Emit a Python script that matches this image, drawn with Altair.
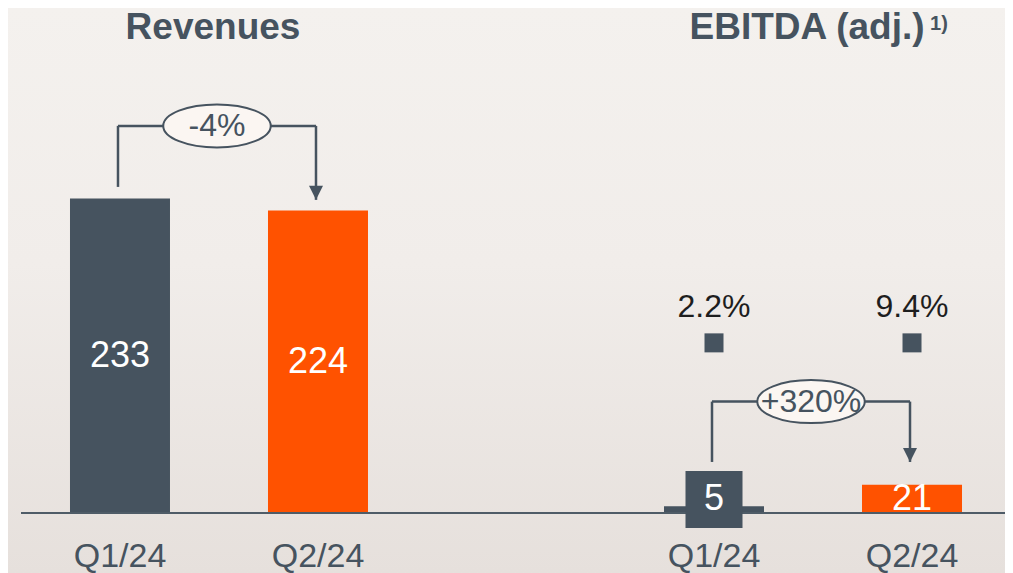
import altair as alt
import pandas as pd

# ---------------- data ----------------
keys = ["Revenues|Q1/24", "Revenues|Q2/24", "gap|", "EBITDA|Q1/24", "EBITDA|Q2/24"]
values = [233, 224, None, 5, 21]
series = ["Q1", "Q2", "Q1", "Q1", "Q2"]
value_labels = ["233", "224", "", "5", "21"]
label_y = [116.5, 112, None, 10, 10]
label_box = [False, False, False, True, False]

group_titles = ["Revenues", "EBITDA (adj.)"]
title_keys = ["Revenues|Q1/24", "EBITDA|Q1/24"]
title_y = [359.5, 359.5]
footnote = "1)"

margin_keys = ["EBITDA|Q1/24", "EBITDA|Q2/24"]
margin_labels = ["2.2%", "9.4%"]
margin_marker_y = [126, 126]
margin_text_y = [152.6, 152.6]

arrow_from = ["Revenues|Q1/24", "EBITDA|Q1/24"]
arrow_to = ["Revenues|Q2/24", "EBITDA|Q2/24"]
arrow_start_y = [241.5, 37.8]
arrow_level_y = [286.7, 82.5]
arrow_tip_y = [231.9, 37.8]
arrow_labels = ["-4%", "+320%"]

baseline_y = [0]

# ---------------- styles ----------------
SLATE = "#46535f"
ORANGE = "#ff5200"
FONT = "Liberation Sans, Arial, sans-serif"
W, H = 984, 505

bars = pd.DataFrame({"key": keys, "value": values, "series": series,
                     "label": value_labels, "label_y": label_y, "box": label_box})
titles_df = pd.DataFrame({"key": title_keys, "y": title_y, "text": group_titles})
margins_df = pd.DataFrame({"key": margin_keys, "label": margin_labels,
                           "my": margin_marker_y, "ty": margin_text_y})
arrows_df = pd.DataFrame({"from_key": arrow_from, "to_key": arrow_to,
                          "y0": arrow_start_y, "y1": arrow_level_y,
                          "y2": arrow_tip_y, "label": arrow_labels})
base_df = pd.DataFrame({"y": baseline_y})

xscale = alt.Scale(domain=keys, paddingInner=0.495, paddingOuter=0.2323, align=0.5326)
yscale = alt.Scale(domain=[0, 374])

ELLIPSE = ("M-2.5,0C-2.5,-0.5523,-1.3807,-1,0,-1C1.3807,-1,2.5,-0.5523,2.5,0"
           "C2.5,0.5523,1.3807,1,0,1C-1.3807,1,-2.5,0.5523,-2.5,0Z")
ARROWHEAD = "M-1,-2L1,-2L0,0Z"

x_axis = alt.Axis(
    title=None, labelExpr="split(datum.value, '|')[1]",
    labelFont=FONT, labelFontSize=34, labelColor=SLATE, labelAngle=0,
    labelBaseline="middle", labelPadding=43, zindex=1, domain=False,
    ticks=False, tickSize=0, grid=False,
)

# background gradient
bg = alt.Chart(alt.Data(values=[{"a": 1}])).mark_rect(
    color=alt.Gradient(gradient="linear", x1=0, x2=0, y1=0, y2=1,
                       stops=[alt.GradientStop(color="#f4f1ee", offset=0),
                              alt.GradientStop(color="#f1edea", offset=0.45),
                              alt.GradientStop(color="#e6e0dc", offset=1)])
).encode(x=alt.value(-13), x2=alt.value(W), y=alt.value(0), y2=alt.value(H + 60))

bar_layer = alt.Chart(bars).mark_bar(size=100).encode(
    x=alt.X("key:N", scale=xscale, axis=x_axis),
    y=alt.Y("value:Q", scale=yscale, axis=None),
    color=alt.Color("series:N", scale=alt.Scale(domain=["Q1", "Q2"], range=[SLATE, ORANGE]),
                    legend=None),
)

baseline = alt.Chart(base_df).mark_rule(color="#4f5c67", strokeWidth=2).encode(
    x=alt.value(0), x2=alt.value(W),
    y=alt.Y("y:Q", scale=yscale, axis=None),
)

box_layer = alt.Chart(bars).transform_filter("datum.box").mark_point(
    shape="square", filled=True, size=3249, color=SLATE, opacity=1
).encode(
    x=alt.X("key:N", scale=xscale, axis=x_axis),
    y=alt.Y("label_y:Q", scale=yscale, axis=None),
)

value_text = alt.Chart(bars).transform_filter("datum.label != ''").mark_text(
    font=FONT, fontSize=36, color="white", baseline="middle", align="center"
).encode(
    x=alt.X("key:N", scale=xscale, axis=x_axis),
    y=alt.Y("label_y:Q", scale=yscale, axis=None),
    text="label:N",
)

title_main = alt.Chart(titles_df).mark_text(
    font=FONT, fontSize=37, fontWeight="bold", color=SLATE, baseline="middle", align="center",
    dx=93
).encode(
    x=alt.X("key:N", scale=xscale, axis=x_axis),
    y=alt.Y("y:Q", scale=yscale, axis=None),
    text="text:N",
)

foot_df = pd.DataFrame({"key": [title_keys[1]], "y": [title_y[1]], "text": [footnote]})
title_foot = alt.Chart(foot_df).mark_text(
    font=FONT, fontSize=20, fontWeight="bold", color=SLATE, baseline="middle", align="left",
    dx=216, dy=-4
).encode(
    x=alt.X("key:N", scale=xscale, axis=x_axis),
    y=alt.Y("y:Q", scale=yscale, axis=None),
    text="text:N",
)

margin_marker = alt.Chart(margins_df).mark_point(
    shape="square", filled=True, size=361, color=SLATE, opacity=1
).encode(
    x=alt.X("key:N", scale=xscale, axis=x_axis),
    y=alt.Y("my:Q", scale=yscale, axis=None),
)

margin_text = alt.Chart(margins_df).mark_text(
    font=FONT, fontSize=32, color="#1e1e1e", baseline="middle", align="center"
).encode(
    x=alt.X("key:N", scale=xscale, axis=x_axis),
    y=alt.Y("ty:Q", scale=yscale, axis=None),
    text="label:N",
)

arrow_base = alt.Chart(arrows_df)
left_vert = arrow_base.mark_rule(color=SLATE, strokeWidth=2.5, xOffset=-2).encode(
    x=alt.X("from_key:N", scale=xscale, axis=x_axis),
    y=alt.Y("y0:Q", scale=yscale, axis=None),
    y2="y1:Q",
)
right_vert = arrow_base.mark_rule(color=SLATE, strokeWidth=2.5, xOffset=-2).encode(
    x=alt.X("to_key:N", scale=xscale, axis=x_axis),
    y=alt.Y("y1:Q", scale=yscale, axis=None),
    y2="y2:Q",
)
horiz = arrow_base.mark_rule(color=SLATE, strokeWidth=2.5, xOffset=-2, x2Offset=-2).encode(
    x=alt.X("from_key:N", scale=xscale, axis=x_axis),
    x2="to_key:N",
    y=alt.Y("y1:Q", scale=yscale, axis=None),
)
head = arrow_base.mark_point(
    shape=ARROWHEAD, filled=True, size=196, color=SLATE, opacity=1, xOffset=-2
).encode(
    x=alt.X("to_key:N", scale=xscale, axis=x_axis),
    y=alt.Y("y2:Q", scale=yscale, axis=None),
)
ellipse = arrow_base.mark_point(
    shape=ELLIPSE, filled=True, size=1849, fill="#fbf6f2", stroke=SLATE, strokeWidth=2,
    opacity=1, fillOpacity=1, xOffset=97
).encode(
    x=alt.X("from_key:N", scale=xscale, axis=x_axis),
    y=alt.Y("y1:Q", scale=yscale, axis=None),
)
ellipse_text = arrow_base.mark_text(
    font=FONT, fontSize=32, color=SLATE, baseline="middle", align="center", dx=97
).encode(
    x=alt.X("from_key:N", scale=xscale, axis=x_axis),
    y=alt.Y("y1:Q", scale=yscale, axis=None),
    text="label:N",
)

chart = alt.layer(
    bg, bar_layer, baseline, box_layer, value_text, title_main, title_foot,
    margin_marker, margin_text, left_vert, right_vert, horiz, head, ellipse, ellipse_text
).properties(
    width=W, height=H,
    autosize=alt.AutoSizeParams(type="none"),
    padding={"left": 13, "top": 0, "right": 0, "bottom": 60},
    background="#ece7e3",
).configure_view(stroke=None)

chart.save("out.html", embed_options={"renderer": "svg", "actions": False})
